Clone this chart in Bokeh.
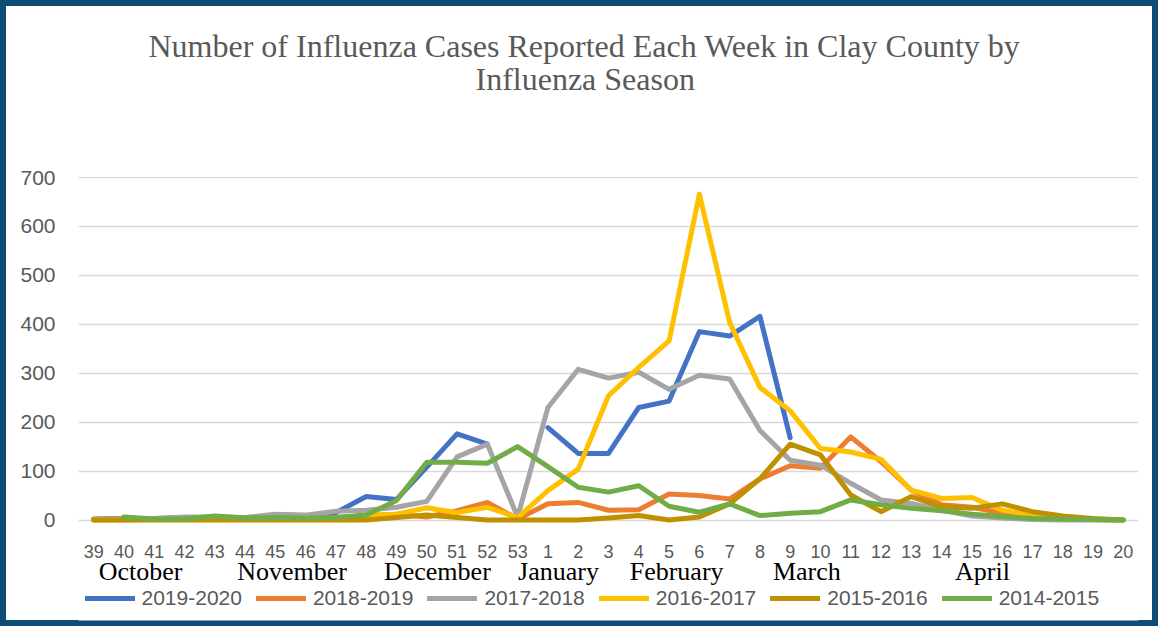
import math
from bokeh.plotting import figure
from bokeh.models import (Range1d, FixedTicker, Legend, LegendItem,
                          Title, ColumnDataSource)
from bokeh.core.properties import value
from bokeh.embed import file_html
from bokeh.resources import INLINE

nan = float("nan")

# ---------------- data ----------------
weeks = [39, 40, 41, 42, 43, 44, 45, 46, 47, 48, 49, 50, 51, 52, 53,
         1, 2, 3, 4, 5, 6, 7, 8, 9, 10, 11, 12, 13, 14, 15, 16, 17, 18, 19, 20]

seasons = ["2019-2020", "2018-2019", "2017-2018", "2016-2017", "2015-2016", "2014-2015"]

cases_2019_2020 = [2, 3, 2, 2, 3, 3, 4, 5, 15, 48, 42, 108, 176, 155, nan,
                   189, 136, 136, 230, 243, 385, 376, 416, 168, nan, nan, nan, nan, nan, nan, nan, nan, nan, nan, nan]
cases_2018_2019 = [1, 2, 3, 5, 3, 3, 4, 4, 5, 8, 12, 6, 19, 36, 2,
                   33, 36, 20, 21, 53, 50, 43, 84, 111, 106, 170, 119, 61, 31, 26, 14, 5, 2, 1, 0]
cases_2017_2018 = [1, 2, 3, 6, 6, 5, 12, 10, 18, 20, 26, 38, 129, 155, 6,
                   230, 308, 290, 302, 267, 296, 288, 183, 122, 112, 75, 41, 34, 20, 8, 4, 1, 0, 0, 0]
cases_2016_2017 = [0, 0, 1, 1, 2, 2, 2, 2, 3, 10, 12, 25, 15, 26, 5,
                   60, 104, 254, 312, 366, 666, 404, 271, 223, 146, 139, 124, 61, 44, 46, 20, 10, 5, 2, 0]
cases_2015_2016 = [0, 0, 0, 0, 0, 0, 0, 0, 0, 0, 5, 10, 5, 0, 0,
                   0, 0, 4, 9, 0, 6, 33, 84, 155, 133, 51, 17, 48, 27, 24, 33, 17, 8, 3, 0]
cases_2014_2015 = [nan, 6, 2, 2, 8, 4, 5, 4, 5, 10, 40, 118, 118, 116, 150,
                   109, 67, 57, 70, 28, 16, 33, 9, 14, 17, 41, 31, 24, 19, 12, 7, 3, 2, 1, 0]

series_values = [cases_2019_2020, cases_2018_2019, cases_2017_2018,
                 cases_2016_2017, cases_2015_2016, cases_2014_2015]

y_ticks = [0, 100, 200, 300, 400, 500, 600, 700]

month_names = ["October", "November", "December", "January", "February", "March", "April"]
month_ticks = [1.55, 6.55, 11.35, 15.35, 19.25, 23.55, 29.35]

title_lines = ["Number of Influenza Cases Reported Each Week in Clay County by",
               "Influenza Season"]

# ---------------- styles / layout ----------------
colors = ["#4472C4", "#ED7D31", "#A5A5A5", "#FFC000", "#BF9000", "#70AD47"]
GRAY_TXT = "#595959"
BORDER = "#0F4C75"

W, H = 1158, 626
ML, MR, MT, MB = 78, 20, 176, 6
PX_PER_UNIT = (519.5 - 177.0) / 700.0          # vertical scale of the value axis
Y_TOP = 700 + 1.0 / PX_PER_UNIT
Y_BOTTOM = -((H - MB) - 519.5) / PX_PER_UNIT     # frame extends down to hold labels + legend
WEEK_LABEL_Y = -(550.5 - 519.5) / PX_PER_UNIT
MONTH_LABEL_Y = -(571.0 - 519.5) / PX_PER_UNIT

p = figure(width=W, height=H, output_backend="svg", toolbar_location=None,
           x_range=Range1d(-0.5, 34.5), y_range=Range1d(Y_BOTTOM, Y_TOP),
           x_axis_location=None,
           min_border_left=ML, min_border_right=MR, min_border_top=MT, min_border_bottom=MB,
           background_fill_color="white", border_fill_alpha=0)
p.styles = {"outline": "6px solid " + BORDER, "outline-offset": "-6px",
            "background-color": "white"}
p.outline_line_color = None
p.xgrid.visible = False
p.ygrid.grid_line_color = "#D9D9D9"
p.ygrid.grid_line_width = 1.3
p.ygrid.ticker = FixedTicker(ticks=y_ticks)

idx = list(range(len(weeks)))

# y axis
yax = p.yaxis[0]
yax.ticker = FixedTicker(ticks=y_ticks)
yax.axis_line_color = None
yax.major_tick_line_color = None
yax.minor_tick_line_color = None
yax.major_tick_out = 0
yax.major_label_standoff = 23
yax.major_label_text_font = "Liberation Sans"
yax.major_label_text_font_size = "21px"
yax.major_label_text_color = GRAY_TXT

# week tick labels
wk_src = ColumnDataSource(dict(x=idx, y=[WEEK_LABEL_Y] * len(idx), t=[str(w) for w in weeks]))
p.text("x", "y", text="t", source=wk_src, text_align="center", text_baseline="middle",
       text_font=value("Liberation Sans"), text_font_size="18px", text_color=GRAY_TXT)

# month labels
mo_src = ColumnDataSource(dict(x=month_ticks, y=[MONTH_LABEL_Y] * len(month_ticks), t=month_names))
p.text("x", "y", text="t", source=mo_src, text_align="center", text_baseline="alphabetic",
       text_font=value("Liberation Serif"), text_font_size="26px", text_color="black")

# lines
renderers = []
for name, vals, c in zip(seasons, series_values, colors):
    src = ColumnDataSource(dict(x=idx, y=vals))
    r = p.line("x", "y", source=src, line_color=c, line_width=5,
               line_join="round", line_cap="round")
    renderers.append(r)

legend = Legend(items=[LegendItem(label=n, renderers=[r]) for n, r in zip(seasons, renderers)],
                orientation="horizontal", location=(6.5, 10),
                glyph_width=50, glyph_height=20, label_height=22, label_standoff=7, spacing=14,
                padding=0, margin=0, border_line_color=None, background_fill_alpha=0,
                label_text_font="Liberation Sans", label_text_font_size="21px",
                label_text_color=GRAY_TXT)
p.add_layout(legend, "center")

# title (closest-to-plot first: spacer, line 2, line 1)
p.add_layout(Title(text=" ", text_font_size="1px", standoff=77), "above")
p.add_layout(Title(text=title_lines[1], align="left", offset=397, vertical_align="bottom",
                   standoff=0, text_font="Liberation Serif", text_font_size="32px",
                   text_font_style="normal", text_color=GRAY_TXT), "above")
p.add_layout(Title(text=title_lines[0], align="left", offset=70, vertical_align="bottom",
                   standoff=-10, text_font="Liberation Serif", text_font_size="32px",
                   text_font_style="normal", text_color=GRAY_TXT), "above")

open("out.html", "w").write(file_html(p, INLINE))
